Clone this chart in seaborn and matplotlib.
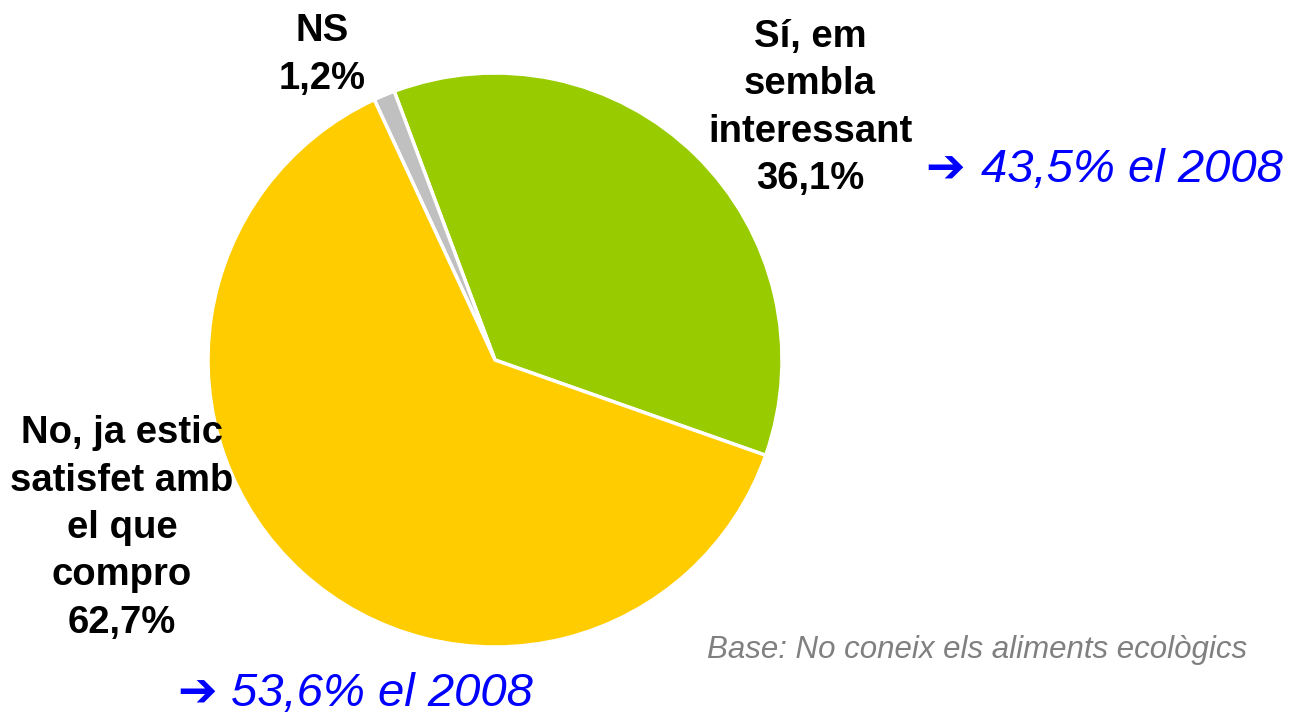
import matplotlib
matplotlib.use("Agg")
import matplotlib.pyplot as plt
import seaborn as sns

sns.set_theme(style="white")
plt.rcParams["font.family"] = ["Liberation Sans", "DejaVu Sans"]

# Survey answers (share of respondents, %)
categories = ["Sí, em\nsembla\ninteressant", "NS", "No, ja estic\nsatisfet amb\nel que\ncompro"]
values = [36.1, 1.2, 62.7]
value_labels = ["36,1%", "1,2%", "62,7%"]
colors = ["#99CC00", "#C0C0C0", "#FFCC00"]
previous = ["43,5% el 2008", None, "53,6% el 2008"]
base_note = "Base: No coneix els aliments ecològics"

W, H = 1294, 720
fig = plt.figure(figsize=(W / 100, H / 100), dpi=100)
fig.patch.set_facecolor("white")

cx, cy, r = 495, 360, 287
ax = fig.add_axes([(cx - r) / W, (H - cy - r) / H, 2 * r / W, 2 * r / H])
ax.pie(values, colors=colors, startangle=-19.4, counterclock=True,
       wedgeprops=dict(edgecolor="white", linewidth=2.5), radius=1)
ax.set_aspect("equal")
ax.set_xlim(-1, 1)
ax.set_ylim(-1, 1)
ax.axis("off")

def fx(px):
    return px / W

def fy(py):
    return 1 - py / H

label_pos = [(810, 108), (322, 55), (122, 528)]
for cat, lab, (px, py) in zip(categories, value_labels, label_pos):
    fig.text(fx(px), fy(py), f"{cat}\n{lab}", ha="center", va="center",
             fontsize=27.5, fontweight="bold", color="black", linespacing=1.41)

# Comparison with 2008
arrow_pos = [(945, 170), None, (197, 694)]
text_pos = [(981, 170), None, (231, 694)]
for prev, apos, tpos in zip(previous, arrow_pos, text_pos):
    if prev is None:
        continue
    fig.text(fx(apos[0]), fy(apos[1]), "➔", ha="center", va="center",
             fontsize=34, fontweight="bold", color="#0000FF", family="DejaVu Sans")
    fig.text(fx(tpos[0]), fy(tpos[1]), prev, ha="left", va="center",
             fontsize=34, style="italic", color="#0000FF")

fig.text(fx(1247), fy(650), base_note, ha="right", va="center",
         fontsize=22.5, style="italic", color="#808080")

fig.savefig("out.png", dpi=100, facecolor="white")
